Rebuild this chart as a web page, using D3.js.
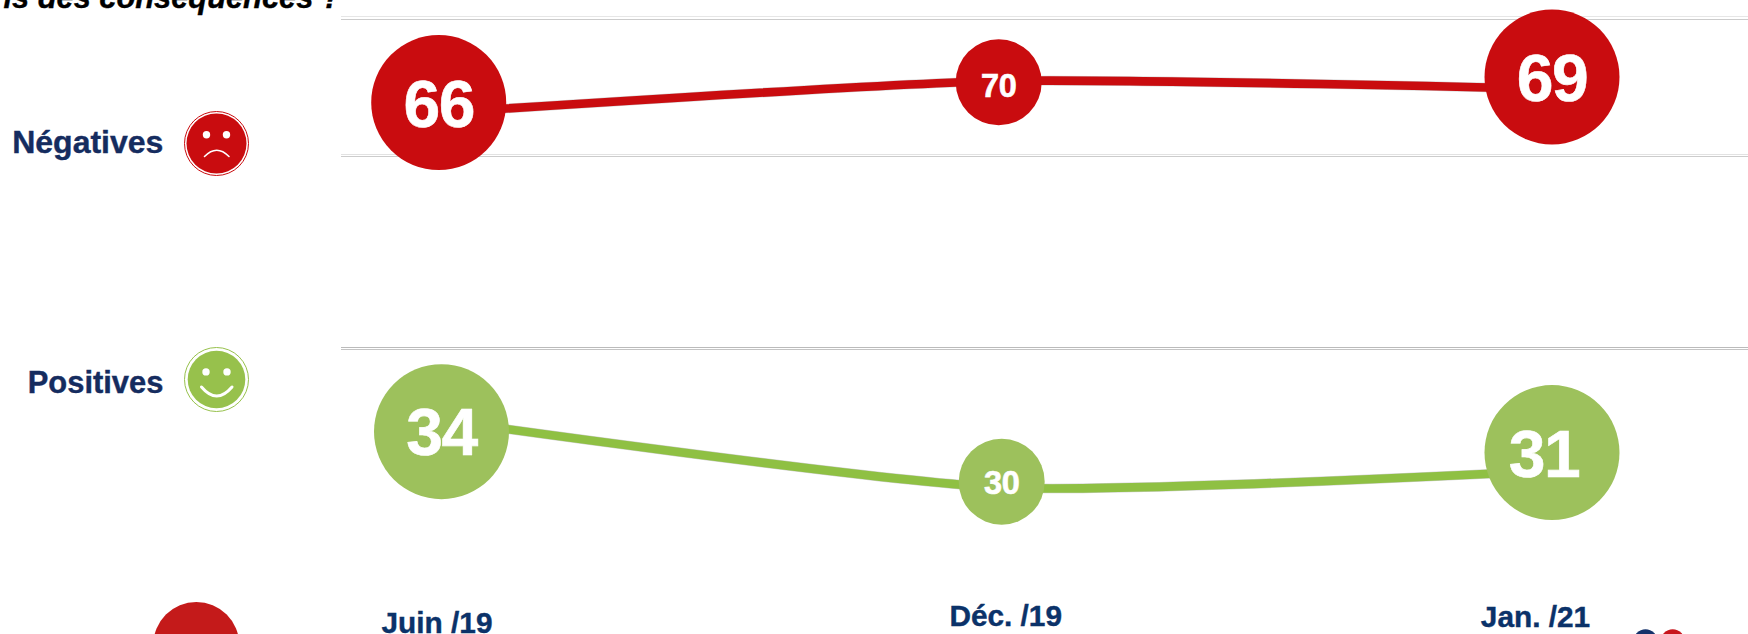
<!DOCTYPE html>
<html lang="fr">
<head>
<meta charset="utf-8">
<title>Conséquences négatives et positives</title>
<script src="https://cdn.jsdelivr.net/npm/d3@7"></script>
<style>
html,body{margin:0;padding:0;background:#fff;overflow:hidden}
svg{display:block}
text{font-family:"Liberation Sans",Arial,sans-serif;font-weight:700}
</style>
</head>
<body>
<div id="chart"></div>
<script>
// ---- Data ----
const periods = ["Juin /19", "Déc. /19", "Jan. /21"];
const negativeValues = [66, 70, 69];
const positiveValues = [34, 30, 31];
// The reference places its bubbles by hand, off the line: level of each bubble, in value units
const negativeBubbleLevels = [67.31, 69.84, 70.5];
const positiveBubbleLevels = [33.31, 30.35, 32.07];
const titleFragment = "is des conséquences ?";
const negativeLabel = "Négatives";
const positiveLabel = "Positives";

// ---- Scales and layout ----
const width = 1748, height = 634;
const xNeg = d3.scaleOrdinal(periods, [438.7, 998.7, 1552]);
const xPos = d3.scaleOrdinal(periods, [441.5, 1001.7, 1552]);
const yNeg = d3.scaleLinear().domain([60, 75]).range([161, 41]);
const yPos = d3.scaleLinear().domain([25, 40]).range([572.1, 318.6]);
const radius = d3.scaleOrdinal(periods, [67.5, 43, 67.5]);
const valueFont = d3.scaleOrdinal(periods, [66, 32.5, 66]);
const valueTracking = d3.scaleOrdinal(periods, [-1.5, -0.5, -1.5]);
const labelBaseline = d3.scaleOrdinal(periods, [633, 626, 627]);
const labelCentre = d3.scaleOrdinal(periods, [437, 1005.7, 1535.5]);

const svg = d3.select("#chart").append("svg")
  .attr("width", width).attr("height", height)
  .attr("viewBox", [0, 0, width, height]);

// Rules
const rules = [
  {y: 16.5, c: "#e6e6e6"}, {y: 19.5, c: "#cccccc"},
  {y: 154.5, c: "#e2e2e2"}, {y: 156.5, c: "#cccccc"},
  {y: 347.5, c: "#bbbbbb"}, {y: 349.5, c: "#c4c4c4"}
];
svg.append("g").selectAll("line").data(rules).join("line")
  .attr("x1", 341).attr("x2", width)
  .attr("y1", d => d.y).attr("y2", d => d.y)
  .attr("stroke", d => d.c).attr("stroke-width", 1);

// Title fragment, clipped by the top of the picture
svg.append("text").text(titleFragment)
  .attr("x", 3.5).attr("y", 8)
  .attr("font-size", 30.8).attr("font-style", "italic").attr("fill", "#000")
  .attr("stroke", "#000").attr("stroke-width", 0.4);

// Series
const series = [
  {values: negativeValues, levels: negativeBubbleLevels, x: xNeg, y: yNeg,
   textDx: [0, 0, 0], textDy: [24.2, 15, 23.7], bubble: "#c90c0f", line: "#c90c0f"},
  {values: positiveValues, levels: positiveBubbleLevels, x: xPos, y: yPos,
   textDx: [0, 0, -8], textDy: [23.3, 12, 24.4], bubble: "#9dc15c", line: "#8fc043"}
];

series.forEach(s => {
  const pts = periods.map((p, i) => ({p, i, v: s.values[i], level: s.levels[i]}));
  const line = d3.line()
    .x(d => s.x(d.p))
    .y(d => s.y(d.v))
    .curve(d3.curveCardinal.tension(0.35));
  const g = svg.append("g");
  g.append("path").attr("d", line(pts)).attr("fill", "none")
    .attr("stroke", "#777").attr("stroke-opacity", 0.35).attr("stroke-width", 9.6);
  g.append("path").attr("d", line(pts)).attr("fill", "none")
    .attr("stroke", s.line).attr("stroke-width", 8.6);
  g.selectAll("circle").data(pts).join("circle")
    .attr("cx", d => s.x(d.p))
    .attr("cy", d => s.y(d.level))
    .attr("r", d => radius(d.p))
    .attr("fill", s.bubble);
  g.selectAll("text").data(pts).join("text")
    .attr("x", d => s.x(d.p) + s.textDx[d.i])
    .attr("y", d => s.y(d.level) + s.textDy[d.i])
    .attr("text-anchor", "middle")
    .attr("font-size", d => valueFont(d.p))
    .attr("letter-spacing", d => valueTracking(d.p))
    .attr("fill", "#fff")
    .attr("stroke", "#fff").attr("stroke-width", 0.6)
    .text(d => d.v);
});

// Row labels
const rowLabels = [
  {t: negativeLabel, y: 152.7, size: 32},
  {t: positiveLabel, y: 393.3, size: 30.9}
];
svg.append("g").selectAll("text").data(rowLabels).join("text")
  .attr("x", 163.4).attr("y", d => d.y)
  .attr("text-anchor", "end").attr("font-size", d => d.size).attr("fill", "#152c5f")
  .attr("stroke", "#152c5f").attr("stroke-width", 0.4)
  .text(d => d.t);

// Faces
function face(cx, cy, colour, r, eyeY, eyeDx, mouth, mouthW) {
  const g = svg.append("g");
  g.append("circle").attr("cx", cx).attr("cy", cy).attr("r", 32)
    .attr("fill", "#fff").attr("stroke", colour).attr("stroke-width", 1);
  g.append("circle").attr("cx", cx).attr("cy", cy).attr("r", r).attr("fill", colour);
  [-eyeDx, eyeDx].forEach(dx => g.append("circle")
    .attr("cx", cx + dx).attr("cy", eyeY).attr("r", 3.7).attr("fill", "#fff"));
  const p = d3.path();
  p.moveTo(mouth[0], mouth[1]);
  p.quadraticCurveTo(mouth[2], mouth[3], mouth[4], mouth[5]);
  g.append("path").attr("d", p.toString()).attr("fill", "none")
    .attr("stroke", "#fff").attr("stroke-width", mouthW).attr("stroke-linecap", "round");
}
face(216.5, 143.5, "#c90c0f", 30, 134.7, 10, [204.5, 156.5, 216.7, 144, 229, 156.5], 1.6);
face(216.5, 379.5, "#97c14c", 28.8, 371.9, 10.5, [201.5, 387, 216.7, 405, 232, 387], 3);

// Period labels
svg.append("g").selectAll("text").data(periods).join("text")
  .attr("x", d => labelCentre(d)).attr("y", d => labelBaseline(d))
  .attr("text-anchor", "middle").attr("font-size", 29.8).attr("fill", "#0b3269")
  .attr("stroke", "#0b3269").attr("stroke-width", 0.4)
  .text(d => d);

// Clipped decorative discs at the bottom edge
const discs = [
  {x: 196.3, y: 645, r: 43, c: "#c41a1a"},
  {x: 1645.5, y: 641.3, r: 12, c: "#15326b"},
  {x: 1672.7, y: 641.3, r: 12, c: "#c8161d"}
];
svg.append("g").selectAll("circle").data(discs).join("circle")
  .attr("cx", d => d.x).attr("cy", d => d.y).attr("r", d => d.r).attr("fill", d => d.c);
</script>
</body>
</html>
